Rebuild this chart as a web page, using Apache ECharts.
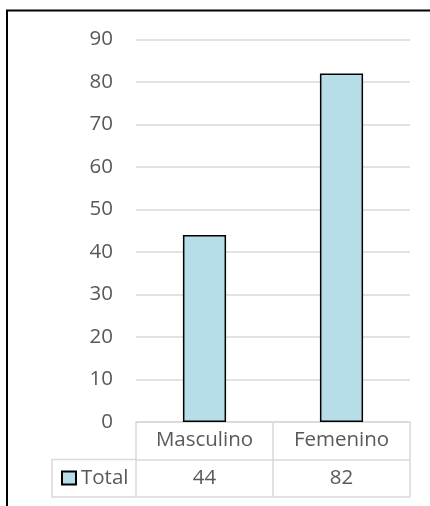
<!DOCTYPE html>
<html>
<head>
<meta charset="utf-8">
<script src="https://cdn.jsdelivr.net/npm/echarts@6/dist/echarts.min.js"></script>
<style>
  html, body { margin: 0; padding: 0; background: #fff; }
  #chart { width: 430px; height: 506px; }
</style>
</head>
<body>
<div id="chart"></div>
<script>
// Respondents by sex
const categories = ['Masculino', 'Femenino'];
const totals = [44, 82];
const seriesName = 'Total';
const yMax = 90;
const yStep = 10;

const FONT = '"Open Sans", sans-serif';
const FS = 20.5;
const TEXT = '#595959';
const RULE = '#d9d9d9';
const FILL = '#b7dde8';

const chart = echarts.init(document.getElementById('chart'), null, { renderer: 'canvas' });

const gridLeft = 136, gridRight = 20, gridTop = 39.5, gridBottom = 84;
const rowH = 37.5;

chart.setOption({
  animation: false,
  backgroundColor: '#fff',
  textStyle: { fontFamily: FONT },
  grid: { left: gridLeft, right: gridRight, top: gridTop, bottom: gridBottom, containLabel: false },
  legend: {
    data: [{ name: seriesName, icon: 'rect' }],
    left: 61, top: 466, padding: 0,
    itemWidth: 14, itemHeight: 13, itemGap: 0, itemTextGap: 4,
    itemStyle: { borderColor: '#000', borderWidth: 2 },
    textStyle: { fontFamily: FONT, fontSize: FS, color: TEXT, lineHeight: 24 },
    selectedMode: false
  },
  xAxis: [
    {
      // category row of the data table
      type: 'category', data: categories, position: 'bottom',
      axisLine: { show: true, lineStyle: { color: RULE, width: 1.5 } },
      axisTick: { show: true, length: rowH * 2, lineStyle: { color: RULE, width: 1.5 } },
      axisLabel: { color: TEXT, fontFamily: FONT, fontSize: FS, margin: 8 },
      splitLine: { show: false }
    },
    {
      // value row of the data table
      type: 'category', data: categories, position: 'bottom', offset: rowH,
      axisLine: { show: true, lineStyle: { color: RULE, width: 1.5 } },
      axisTick: { show: false },
      axisLabel: {
        color: TEXT, fontFamily: FONT, fontSize: FS, margin: 8,
        formatter: (v, i) => String(totals[i])
      }
    },
    {
      type: 'category', data: categories, position: 'bottom', offset: rowH * 2,
      axisLine: { show: true, lineStyle: { color: RULE, width: 1.5 } },
      axisTick: { show: false },
      axisLabel: { show: false }
    }
  ],
  yAxis: {
    type: 'value', min: 0, max: yMax, interval: yStep,
    axisLine: { show: false }, axisTick: { show: false },
    axisLabel: { color: TEXT, fontFamily: FONT, fontSize: FS, margin: 23 },
    splitLine: { show: true, lineStyle: { color: RULE, width: 1.5 } }
  },
  series: [{
    name: seriesName,
    type: 'bar',
    xAxisIndex: 0,
    data: totals,
    barWidth: '31.5%',
    itemStyle: { color: FILL, borderColor: '#000', borderWidth: 1.5 }
  }],
  graphic: [
    // outer chart frame (top and left edges)
    { type: 'polyline', shape: { points: [[7, 506], [7, 10.5], [430, 10.5]] },
      style: { stroke: '#000', lineWidth: 2, fill: null } },
    // legend cell of the data table
    { type: 'polyline', shape: { points: [[gridLeft, 506 - gridBottom + rowH], [52, 506 - gridBottom + rowH], [52, 506 - gridBottom + rowH * 2], [gridLeft, 506 - gridBottom + rowH * 2]] },
      style: { stroke: RULE, lineWidth: 1.5, fill: null } }
  ]
});
</script>
</body>
</html>
